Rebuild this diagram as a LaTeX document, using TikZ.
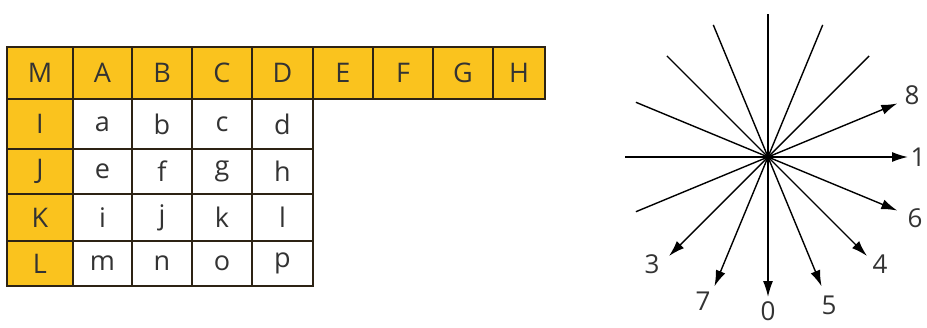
\documentclass[tikz,border=0pt]{standalone}
\usepackage{fontspec}
\setmainfont{Open Sans}
\usetikzlibrary{calc,arrows.meta}
\definecolor{hdr}{RGB}{250,195,30}
\definecolor{edge}{RGB}{45,35,20}
\tikzset{
  cell/.style={draw=edge,line width=2pt,minimum width=#1,inner sep=0pt,font=\fontsize{27}{30}\selectfont,text=black!80},
  ycell/.style={cell=#1,fill=hdr},
  wcell/.style={cell=#1,fill=white},
  ray/.style={line width=1.4pt,black},
  aray/.style={ray,-{Latex[length=16pt,width=10pt]}},
  lab/.style={inner sep=0pt,font=\fontsize{26}{30}\selectfont,text=black!80}
}
\begin{document}
\begin{tikzpicture}[x=1pt,y=-1pt]
\useasboundingbox (0,0) rectangle (927,327);
% header row (y 47-99)
\foreach \nm/\l/\x/\w in {M/M/40/66,A/A/102.5/59,B/B/162/60,C/C/222/60,D/D/282.5/61,E/E/343/60,F/F/403/60,G/G/463/60,H/H/519/52}{
  \node[ycell=\w pt,minimum height=52pt] (h\nm) at (\x,73) {\l};
}
% body rows
\foreach \r/\y/\h/\lab/\la/\lb/\lc/\ld in {1/124/50/I/a/b/c/d,2/171.5/45/J/e/f/g/h,3/217.5/47/K/i/j/k/l,4/263.5/45/L/m/n/o/p}{
  \node[ycell=66pt,minimum height=\h pt] (r\r c0) at (40,\y) {\lab};
  \node[wcell=59pt,minimum height=\h pt] (r\r c1) at (102.5,\y) {\la};
  \node[wcell=60pt,minimum height=\h pt] (r\r c2) at (162,\y) {\lb};
  \node[wcell=60pt,minimum height=\h pt] (r\r c3) at (222,\y) {\lc};
  \node[wcell=61pt,minimum height=\h pt] (r\r c4) at (282.5,\y) {\ld};
}
% star
\coordinate (c) at (768,157);
\foreach \i/\a in {1/90,2/112.5,3/135,4/157.5,5/180,6/202.5,7/67.5,8/45}{
  \coordinate (l\i) at ($(c)+(\a:143pt)$);
  \draw[ray] (c) -- (l\i);
}
\foreach \i/\a in {8/22.5,1/0,6/-22.5,4/-45,5/-67.5,0/-90,7/-112.5,3/-135}{
  \coordinate (t\i) at ($(c)+(\a:140pt)$);
  \draw[aray] (c) -- (t\i);
}
\node[lab] (n8) at (912,95) {8};
\node[lab] (n1) at (918,157) {1};
\node[lab] (n6) at (915,218) {6};
\node[lab] (n4) at (880,264) {4};
\node[lab] (n5) at (829,305) {5};
\node[lab] (n0) at (768,311) {0};
\node[lab] (n7) at (703,301) {7};
\node[lab] (n3) at (652,264) {3};
\end{tikzpicture}
\end{document}
